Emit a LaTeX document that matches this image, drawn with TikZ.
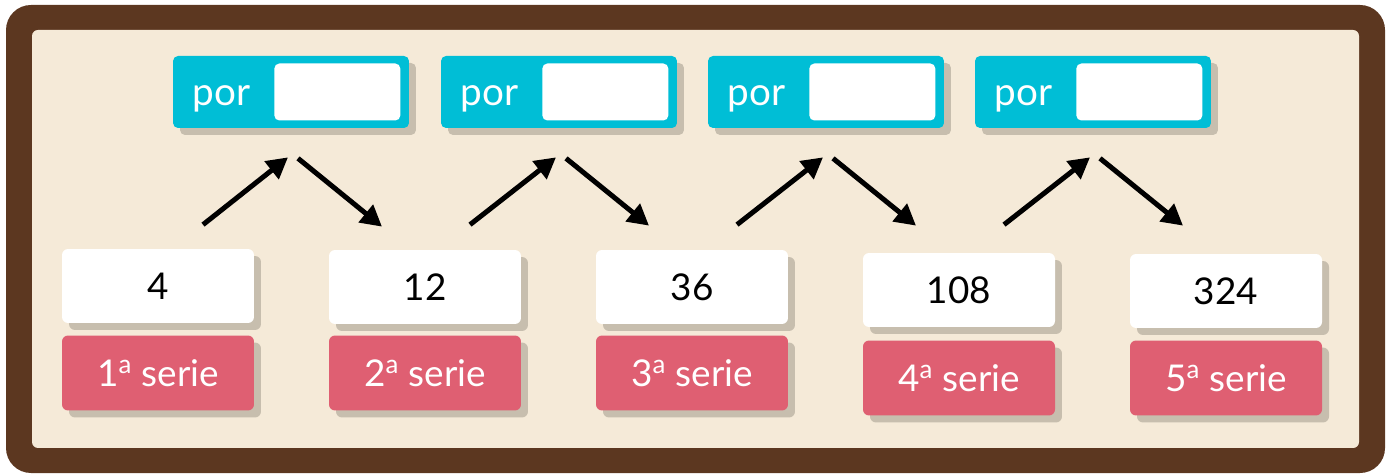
\documentclass[tikz,border=0pt]{standalone}
\usepackage{fontspec}
\setmainfont{Lato}
\usetikzlibrary{calc,shadows,arrows.meta}

\definecolor{frame}{HTML}{5C3720}
\definecolor{paper}{HTML}{F5EAD8}
\definecolor{porblue}{HTML}{00BED6}
\definecolor{seriepink}{HTML}{DF5F72}
\definecolor{shade}{HTML}{C7BEAE}

\begin{document}
\begin{tikzpicture}[x=0.02cm, y=-0.02cm,
        shadowed/.style={drop shadow={shadow xshift=0.14cm, shadow yshift=-0.14cm, fill=shade, opacity=1}},
        porbox/.style={shadowed, fill=porblue, rounded corners=0.1cm, minimum width=4.72cm, minimum height=1.44cm, inner sep=0pt},
        blank/.style={fill=white, rounded corners=0.1cm, minimum width=2.52cm, minimum height=1.14cm, inner sep=0pt},
        numbox/.style={shadowed, fill=white, rounded corners=0.12cm, minimum width=3.84cm, minimum height=1.48cm, inner sep=0pt, font=\fontsize{21}{25}\selectfont},
        seriebox/.style={shadowed, fill=seriepink, text=white, rounded corners=0.12cm, minimum width=3.84cm, minimum height=1.5cm, inner sep=0pt, font=\fontsize{21}{25}\selectfont},
        portext/.style={text=white, anchor=base, inner sep=0pt, font=\fontsize{22}{26}\selectfont},
        arrow/.style={-{Triangle[length=0.42cm, width=0.44cm]}, line width=0.1cm}]

    \useasboundingbox (0,0) rectangle (1391,475);
    \fill[frame, rounded corners=0.5cm] (6,5) rectangle (1385,473);
    \fill[paper, rounded corners=0.12cm] (32,30) rectangle (1359,448);

    % por boxes
    \node[porbox] (p1) at (291,92) {};
    \node[porbox] (p2) at (559,92) {};
    \node[porbox] (p3) at (826,92) {};
    \node[porbox] (p4) at (1093,92) {};
    \node[portext] (t1) at ($(p1.west)+(49,14)$) {por};
    \node[portext] (t2) at ($(p2.west)+(49,14)$) {por};
    \node[portext] (t3) at ($(p3.west)+(49,14)$) {por};
    \node[portext] (t4) at ($(p4.west)+(49,14)$) {por};
    \node[blank] (b1) at ($(p1.east)+(-72,0)$) {};
    \node[blank] (b2) at ($(p2.east)+(-72,0)$) {};
    \node[blank] (b3) at ($(p3.east)+(-72,0)$) {};
    \node[blank] (b4) at ($(p4.east)+(-72,0)$) {};

    % numbers
    \node[numbox] (n1) at (158,286) {4};
    \node[numbox] (n2) at (425,287) {12};
    \node[numbox] (n3) at (692,287) {36};
    \node[numbox] (n4) at (959,290) {108};
    \node[numbox] (n5) at (1226,291) {324};

    % series
    \node[seriebox] (s1) at (158,373) {1\textsuperscript{a} serie};
    \node[seriebox] (s2) at (425,373) {2\textsuperscript{a} serie};
    \node[seriebox] (s3) at (692,373) {3\textsuperscript{a} serie};
    \node[seriebox] (s4) at (959,378) {4\textsuperscript{a} serie};
    \node[seriebox] (s5) at (1226,378) {5\textsuperscript{a} serie};

    % arrows
    \draw[arrow] ($(n1.north)+(45,-24)$) -- ($(p1.south)+(-3,29)$);
    \draw[arrow] ($(p1.south)+(7,30)$) -- ($(n2.north)+(-43,-23)$);
    \draw[arrow] ($(n2.north)+(45,-25)$) -- ($(p2.south)+(-3,29)$);
    \draw[arrow] ($(p2.south)+(7,30)$) -- ($(n3.north)+(-43,-24)$);
    \draw[arrow] ($(n3.north)+(45,-25)$) -- ($(p3.south)+(-3,29)$);
    \draw[arrow] ($(p3.south)+(7,30)$) -- ($(n4.north)+(-43,-27)$);
    \draw[arrow] ($(n4.north)+(45,-28)$) -- ($(p4.south)+(-3,29)$);
    \draw[arrow] ($(p4.south)+(7,30)$) -- ($(n5.north)+(-43,-28)$);

\end{tikzpicture}
\end{document}
